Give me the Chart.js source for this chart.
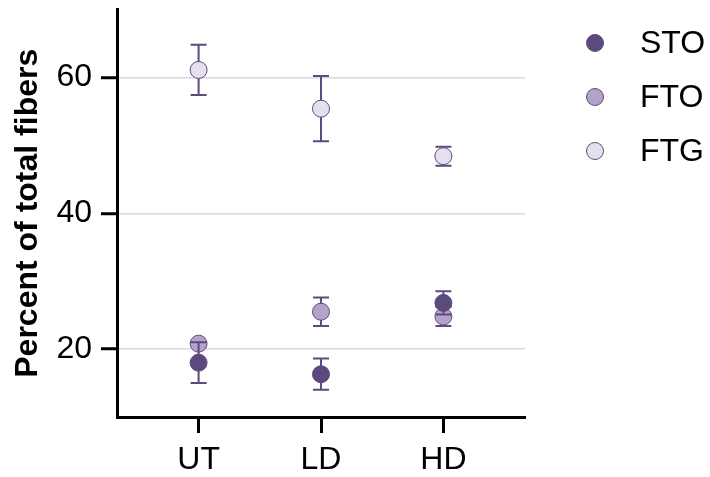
<!DOCTYPE html>
<html>
<head>
<meta charset="utf-8">
<script src="https://cdn.jsdelivr.net/npm/chart.js@4"></script>
<style>
  html, body { margin: 0; padding: 0; background: #fff; }
  #wrap { width: 710px; height: 477px; }
</style>
</head>
<body>
<div id="wrap"><canvas id="myChart"></canvas></div>
<script>
const groups = ["UT", "LD", "HD"];
const stoMean = [18.0, 16.3, 26.8];
const stoSd = [3.0, 2.3, 1.7];
const ftoMean = [20.8, 25.5, 24.8];
const ftoSd = [0.3, 2.1, 1.4];
const ftgMean = [61.1, 55.4, 48.4];
const ftgSd = [3.7, 4.8, 1.4];
const yTicks = [20, 40, 60];

const family = "'Liberation Sans', Arial, sans-serif";
const edge = "#5e4a80";

const toPoints = (means) => means.map((m, i) => ({ x: i + 1, y: m }));

// error bars are drawn just before each dataset's own points
const errorBars = {
  id: "errorBars",
  beforeDatasetDraw(chart, args) {
    const ds = chart.data.datasets[args.index];
    if (!ds.errors) return;
    const { ctx, scales: { x, y } } = chart;
    ctx.save();
    ctx.strokeStyle = edge;
    ctx.lineWidth = 2;
    ds.data.forEach((p, i) => {
      const px = x.getPixelForValue(p.x);
      const top = y.getPixelForValue(p.y + ds.errors[i]);
      const bot = y.getPixelForValue(p.y - ds.errors[i]);
      ctx.beginPath();
      ctx.moveTo(px, top);
      ctx.lineTo(px, bot);
      ctx.moveTo(px - 8, top);
      ctx.lineTo(px + 8, top);
      ctx.moveTo(px - 8, bot);
      ctx.lineTo(px + 8, bot);
      ctx.stroke();
    });
    ctx.restore();
  },
};

// legend to the right of the plot
const sideLegend = {
  id: "sideLegend",
  afterDraw(chart) {
    const ctx = chart.ctx;
    const cx = chart.chartArea.right + 70;
    ctx.save();
    ctx.font = "32px " + family;
    ctx.textBaseline = "middle";
    ctx.textAlign = "left";
    chart.data.datasets.forEach((ds, i) => {
      const cy = 43 + i * 54;
      ctx.beginPath();
      ctx.arc(cx, cy, 8.5, 0, Math.PI * 2);
      ctx.fillStyle = ds.backgroundColor;
      ctx.fill();
      ctx.lineWidth = 1;
      ctx.strokeStyle = ds.borderColor;
      ctx.stroke();
      ctx.fillStyle = "#000";
      ctx.fillText(ds.label, cx + 45, cy + 1);
    });
    ctx.restore();
  },
};

const ctx = document.getElementById("myChart");

const myChart = new Chart(ctx, {
  type: "scatter",
  data: {
    datasets: [
      { label: "STO", data: toPoints(stoMean), errors: stoSd, backgroundColor: "#5c4a7d", borderColor: edge },
      { label: "FTO", data: toPoints(ftoMean), errors: ftoSd, backgroundColor: "#b1a3c9", borderColor: edge },
      { label: "FTG", data: toPoints(ftgMean), errors: ftgSd, backgroundColor: "#e5e0ee", borderColor: edge },
    ],
  },
  options: {
    responsive: true,
    maintainAspectRatio: false,
    animation: false,
    layout: { padding: { top: 7, right: 185, bottom: 0, left: 0 } },
    elements: { point: { radius: 8.5, hoverRadius: 8.5, borderWidth: 1 } },
    plugins: { legend: { display: false }, tooltip: { enabled: false } },
    scales: {
      x: {
        type: "linear",
        min: 1 / 3,
        max: 11 / 3,
        afterBuildTicks: (s) => { s.ticks = groups.map((g, i) => ({ value: i + 1 })); },
        afterFit: (s) => {
          s.height = 60;
          s.paddingLeft = 0;
          s.paddingRight = 0;
        },
        ticks: {
          autoSkip: false,
          maxRotation: 0,
          callback: (v) => groups[Math.round(v) - 1],
          font: { size: 32, family },
          color: "#000",
          padding: 8,
        },
        grid: { drawOnChartArea: false, tickLength: 16, tickWidth: 3, tickColor: "#000" },
        border: { color: "#000", width: 3 },
      },
      y: {
        min: 10,
        max: 70,
        afterBuildTicks: (s) => { s.ticks = yTicks.map((v) => ({ value: v })); },
        afterFit: (s) => {
          s.width = 117;
          s.paddingTop = 0;
          s.paddingBottom = 0;
        },
        ticks: { font: { size: 32, family }, color: "#000", padding: 9 },
        grid: { color: "#d9d9d9", lineWidth: 1.5, tickLength: 16, tickWidth: 3, tickColor: "#000" },
        border: { color: "#000", width: 3 },
        title: {
          display: true,
          text: "Percent of total fibers",
          font: { size: 32, weight: "bold", family },
          color: "#000",
          padding: { top: 9, bottom: 0 },
        },
      },
    },
  },
  plugins: [errorBars, sideLegend],
});
</script>
</body>
</html>
